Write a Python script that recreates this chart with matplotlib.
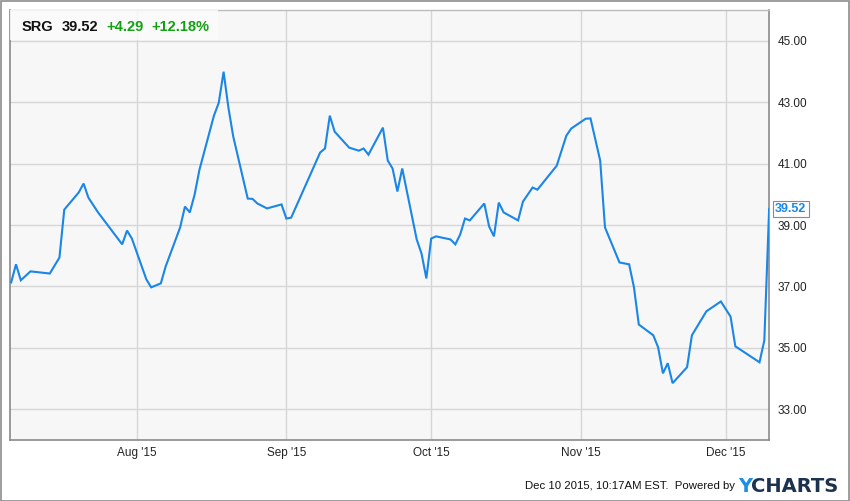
import matplotlib
matplotlib.use("Agg")
import matplotlib.pyplot as plt
from matplotlib.patches import Rectangle
import pandas as pd
from datetime import datetime, timedelta

plt.rcParams['font.family'] = ['Liberation Sans', 'DejaVu Sans']

ticker = "SRG"
last_price = "39.52"
change_abs = "+4.29"
change_pct = "+12.18%"
timestamp = "Dec 10 2015, 10:17AM EST.  Powered by"

dates = ["2015-07-06", "2015-07-07", "2015-07-08", "2015-07-10", "2015-07-14", "2015-07-16",
         "2015-07-17", "2015-07-20", "2015-07-21", "2015-07-22", "2015-07-24", "2015-07-29",
         "2015-07-30", "2015-07-31", "2015-08-03", "2015-08-04", "2015-08-06", "2015-08-07",
         "2015-08-10", "2015-08-11", "2015-08-12", "2015-08-13", "2015-08-14", "2015-08-17",
         "2015-08-18", "2015-08-19", "2015-08-20", "2015-08-21", "2015-08-24", "2015-08-25",
         "2015-08-26", "2015-08-28", "2015-08-31", "2015-09-01", "2015-09-02", "2015-09-08",
         "2015-09-09", "2015-09-10", "2015-09-11", "2015-09-14", "2015-09-16", "2015-09-17",
         "2015-09-18", "2015-09-21", "2015-09-22", "2015-09-23", "2015-09-24", "2015-09-25",
         "2015-09-28", "2015-09-29", "2015-09-30", "2015-10-01", "2015-10-02", "2015-10-05",
         "2015-10-06", "2015-10-07", "2015-10-08", "2015-10-09", "2015-10-12", "2015-10-13",
         "2015-10-14", "2015-10-15", "2015-10-16", "2015-10-19", "2015-10-20", "2015-10-22",
         "2015-10-23", "2015-10-27", "2015-10-29", "2015-10-30", "2015-11-02", "2015-11-03",
         "2015-11-05", "2015-11-06", "2015-11-09", "2015-11-11", "2015-11-12", "2015-11-13",
         "2015-11-16", "2015-11-17", "2015-11-18", "2015-11-19", "2015-11-20", "2015-11-23",
         "2015-11-24", "2015-11-27", "2015-11-30", "2015-12-02", "2015-12-03", "2015-12-08",
         "2015-12-09", "2015-12-10"]
prices = [37.13, 37.72, 37.20, 37.49, 37.42, 37.94,
          39.50, 40.06, 40.35, 39.89, 39.41, 38.37,
          38.82, 38.56, 37.23, 36.97, 37.10, 37.65,
          38.92, 39.60, 39.41, 39.99, 40.80, 42.56,
          42.98, 43.99, 42.82, 41.88, 39.86, 39.85,
          39.70, 39.54, 39.67, 39.21, 39.24, 41.36,
          41.49, 42.56, 42.04, 41.52, 41.42, 41.49,
          41.29, 42.17, 41.10, 40.84, 40.09, 40.84,
          38.53, 38.07, 37.26, 38.56, 38.63, 38.53,
          38.37, 38.69, 39.21, 39.15, 39.70, 38.95,
          38.63, 39.73, 39.41, 39.15, 39.76, 40.22,
          40.15, 40.93, 41.91, 42.14, 42.46, 42.47,
          41.10, 38.92, 37.78, 37.72, 36.97, 35.76,
          35.41, 35.02, 34.17, 34.50, 33.85, 34.37,
          35.41, 36.19, 36.51, 36.02, 35.05, 34.53,
          35.24, 39.52]
y_ticks = [33, 35, 37, 39, 41, 43, 45]
x_tick_dates = ["2015-08-01", "2015-09-01", "2015-10-01", "2015-11-01", "2015-12-01"]
x_tick_labels = ["Aug '15", "Sep '15", "Oct '15", "Nov '15", "Dec '15"]

dt = pd.to_datetime(dates)

W, H = 850, 501
fig = plt.figure(figsize=(W / 100, H / 100), dpi=100)
fig.patch.set_facecolor('white')
fig.patches.append(Rectangle((0.5 / W, 0.5 / H), 1 - 1.5 / W, 1 - 1.5 / H, transform=fig.transFigure,
                             fill=False, edgecolor='#8c8c8c', linewidth=1.2))

ax = fig.add_axes([10 / W, (H - 440) / H, 759 / W, 430 / H])
ax.set_facecolor('#f7f7f7')

ax.plot(dt, prices, color='#1a86e6', linewidth=1.5, solid_joinstyle='miter', zorder=3)

aug1 = datetime(2015, 8, 1)
ax.set_xlim(aug1 - timedelta(days=26.24), aug1 + timedelta(days=130.97))
ax.set_ylim(32.0, 46.0)

ax.set_xticks(pd.to_datetime(x_tick_dates))
ax.set_xticklabels(x_tick_labels)
ax.set_yticks(y_ticks)
ax.set_yticklabels([f"{v:.2f}" for v in y_ticks])
ax.yaxis.tick_right()
ax.tick_params(axis='both', length=0, labelsize=8.5, colors='#222222')
ax.tick_params(axis='y', pad=6)
ax.tick_params(axis='x', pad=5)
ax.grid(True, color='#d6d6d6', linewidth=1.0, zorder=0)
ax.set_axisbelow(True)

for side in ['left', 'right', 'bottom']:
    ax.spines[side].set_color('#8a8a8a')
    ax.spines[side].set_linewidth(1.2)
ax.spines['top'].set_color('#bdbdbd')
ax.spines['top'].set_linewidth(1.0)

# header box
ax.add_patch(Rectangle((0, 1 - 30 / 430), 208 / 759, 30 / 430, transform=ax.transAxes,
                       facecolor='#fbfbfb', edgecolor='none', alpha=0.85, zorder=4))
hy = 1 - 17 / 430
parts = [(ticker, '#111111', 12), (last_price, '#111111', 52), (change_abs, '#13a013', 96),
         (change_pct, '#13a013', 141)]
for txt, col, px in parts:
    ax.text(px / 759, hy, txt, transform=ax.transAxes, fontsize=10.5, fontweight='bold',
            color=col, va='center', ha='left', zorder=5)

# last price label with pointer
ax.annotate(last_price, xy=(1.0, prices[-1]), xycoords=('axes fraction', 'data'),
            xytext=(4.5, 0), textcoords='offset points', fontsize=9, fontweight='bold',
            color='#1a86e6', va='center', ha='left', annotation_clip=False,
            bbox=dict(boxstyle='square,pad=0.18', facecolor='white', edgecolor='#8a8a8a', linewidth=0.8),
            zorder=6)

# footer
fig.text(735 / W, 1 - 486 / H, timestamp, fontsize=8.2, color='#111111', ha='right', va='center')
fig.text(738 / W, 1 - 486 / H, "Y", fontsize=14, fontweight='bold', color='#1b8fe6',
         ha='left', va='center', family=['DejaVu Sans'])
fig.text(751 / W, 1 - 486 / H, "CHARTS", fontsize=14, fontweight='bold', color='#1c3350',
         ha='left', va='center', family=['DejaVu Sans'])

fig.savefig("out.png", dpi=100, facecolor='white')
